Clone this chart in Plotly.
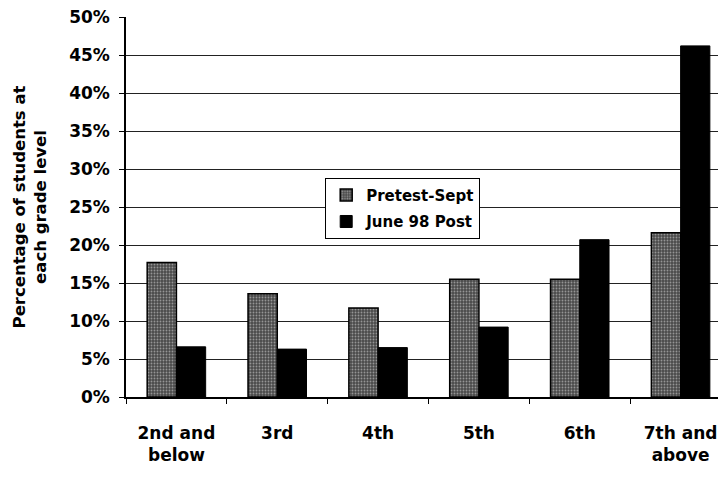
import plotly.graph_objects as go

categories = ["2nd and<br>below", "3rd", "4th", "5th", "6th", "7th and<br>above"]
pretest = [17.7, 13.6, 11.7, 15.5, 15.5, 21.6]
post = [6.6, 6.3, 6.5, 9.2, 20.7, 46.2]
series_names = ["Pretest-Sept", "June 98 Post"]
y_ticks = [0, 5, 10, 15, 20, 25, 30, 35, 40, 45, 50]
y_tick_labels = [f"{v}%" for v in y_ticks]

font_family = "DejaVu Sans, Liberation Sans, Arial, sans-serif"

fig = go.Figure()
fig.add_trace(go.Bar(
    x=categories, y=pretest, name=series_names[0], legendgroup="pre",
    marker=dict(
        color="#666666",
        line=dict(color="#000000", width=1.5),
        pattern=dict(shape=".", fgcolor="#e0e0e0", bgcolor="#4a4a4a", size=3, solidity=0.3),
    ),
))
fig.add_trace(go.Bar(
    x=categories, y=post, name=series_names[1], legendgroup="post",
    marker=dict(color="#000000", line=dict(color="#000000", width=1)),
))

fig.update_layout(
    width=718, height=471,
    margin=dict(l=118, r=0, t=9, b=82, autoexpand=False),
    paper_bgcolor="white", plot_bgcolor="white",
    barmode="group", bargap=0.42, bargroupgap=0,
    font=dict(family=font_family, color="#000000", size=15),
    showlegend=True,
    legend=dict(
        x=0.332, y=0.577, xanchor="left", yanchor="top",
        bgcolor="white", bordercolor="#000000", borderwidth=1,
        font=dict(size=15, family=font_family, weight="bold"),
        tracegroupgap=4, itemwidth=30, traceorder="grouped",
    ),
)
fig.update_xaxes(
    type="category", range=[-0.5, 5.45],
    showline=True, linecolor="#000000", linewidth=1.5,
    ticks="outside", tickson="boundaries", ticklen=5, tickcolor="#000000",
    ticklabelstandoff=20,
    tickfont=dict(size=17, family=font_family, weight="bold"),
    showgrid=False, automargin=False,
)
fig.update_yaxes(
    range=[0, 50], tickvals=y_ticks, ticktext=y_tick_labels,
    showline=True, linecolor="#000000", linewidth=1.5,
    ticks="outside", ticklen=5, tickcolor="#000000",
    ticklabelstandoff=6, ticklabeloverflow="allow",
    showgrid=True, gridcolor="#222222", gridwidth=1,
    tickfont=dict(size=17, family=font_family, weight="bold"),
    title=dict(text="Percentage of students at<br>each grade level",
               font=dict(size=16.5, family=font_family, weight="bold"), standoff=18),
    zeroline=False, automargin=False,
)

fig.write_html("out.html")
